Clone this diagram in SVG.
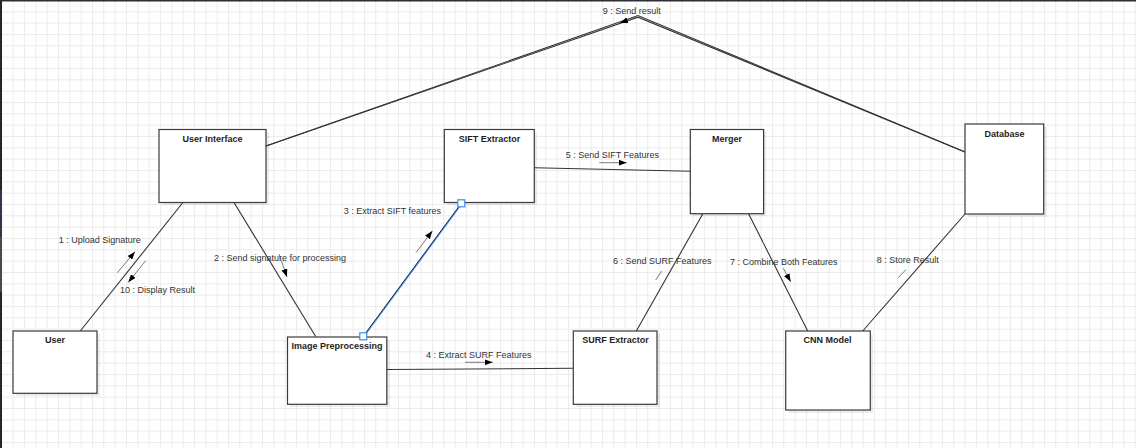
<svg xmlns="http://www.w3.org/2000/svg" width="1136" height="448" viewBox="0 0 1136 448">
  <style>
    .node rect.box { fill: #ffffff; stroke: #3a3a3a; stroke-width: 1.2; }
    .node rect.shadow { fill: #000000; opacity: 0.07; }
    .node text { font-family: "Liberation Sans", Arial, sans-serif; font-size: 9px; font-weight: bold; fill: #1e1e1e; text-anchor: middle; }
    .link { fill: none; stroke: #333333; stroke-width: 1.1; }
    .msg { fill: none; stroke: #6a6a6a; stroke-width: 0.9; }
    .lbl { font-family: "Liberation Sans", Arial, sans-serif; font-size: 9px; fill: #333333; }
    .handle { fill: #ffffff; stroke: #3d8bf2; stroke-width: 1.2; }
  </style>
  <defs>
    <pattern id="grid" x="1.3" y="0" width="11.333" height="11.333" patternUnits="userSpaceOnUse">
      <rect x="0" y="0" width="1" height="11.333" fill="#ebebeb"/>
      <rect x="0" y="0" width="11.333" height="1" fill="#ebebeb"/>
    </pattern>
    <marker id="head" viewBox="0 0 8 6" refX="8" refY="3" markerWidth="8" markerHeight="6" markerUnits="userSpaceOnUse" orient="auto">
      <path d="M0,0 L8,3 L0,6 z" fill="#000000"/>
    </marker>
  </defs>

  <!-- canvas -->
  <rect x="0" y="0" width="1136" height="448" fill="#ffffff"/>
  <rect x="0" y="0" width="1136" height="448" fill="url(#grid)"/>
  <rect x="0" y="0" width="1136" height="1.5" fill="#2b3036"/>
  <rect x="0" y="0" width="2" height="448" fill="#262626"/>
  <rect x="0" y="190" width="2" height="47" fill="#2f3844"/>
  <rect x="0" y="237" width="2" height="55" fill="#4a4a4a"/>

  <!-- connectors -->
  <g id="connectors">
    <polyline class="link" points="266,146 638,15.6 965,152" stroke-width="0.9"/>
    <polyline class="link" points="266,146 638,17.2 965,152" stroke="#555555" stroke-width="0.9"/>
    <line class="link" x1="182.5" y1="203" x2="80.3" y2="331" stroke="#111111" stroke-width="1.5"/>
    <line class="link" x1="234.3" y1="203" x2="315.7" y2="336.5"/>
    <line x1="363.8" y1="336.6" x2="461.8" y2="203.6" stroke="#5b9cf5" stroke-width="1.6"/>
    <line x1="363.3" y1="336.3" x2="461.3" y2="203.3" stroke="#1c2433" stroke-width="1"/>
    <line class="link" x1="387" y1="369.5" x2="573" y2="368.3" stroke="#666666"/>
    <line class="link" x1="534.3" y1="167.7" x2="690.3" y2="171.3"/>
    <line class="link" x1="702.7" y1="214" x2="636.3" y2="331"/>
    <line class="link" x1="748.7" y1="214" x2="807.7" y2="331"/>
    <line class="link" x1="862.7" y1="331" x2="965" y2="214"/>

    <!-- message arrows -->
    <line class="msg" x1="636.5" y1="16.8" x2="620" y2="23" marker-end="url(#head)"/>
    <line class="msg" x1="117.3" y1="272.7" x2="135" y2="251.7" marker-end="url(#head)"/>
    <line class="msg" x1="145.7" y1="260.7" x2="128.3" y2="282.3" marker-end="url(#head)"/>
    <line class="msg" x1="279" y1="254" x2="287" y2="277" marker-end="url(#head)"/>
    <line class="msg" x1="416" y1="252.7" x2="432.3" y2="231" marker-end="url(#head)"/>
    <line class="msg" x1="465" y1="362.3" x2="492.7" y2="362.3" marker-end="url(#head)"/>
    <line class="msg" x1="599.3" y1="162.7" x2="626.7" y2="162.7" marker-end="url(#head)"/>
    <line class="msg" x1="783.3" y1="268.3" x2="790.7" y2="281.7" marker-end="url(#head)"/>
    <line class="msg" x1="655.7" y1="280" x2="661.7" y2="271"/>
    <line class="msg" x1="898.3" y1="277.7" x2="906" y2="269.5"/>

    <!-- message labels -->
    <text class="lbl" x="631.7" y="14" text-anchor="middle">9 : Send result</text>
    <text class="lbl" x="58.7" y="243.3">1 : Upload Signature</text>
    <text class="lbl" x="120" y="293.3">10 : Display Result</text>
    <text class="lbl" x="214" y="261">2 : Send signature for processing</text>
    <text class="lbl" x="343.7" y="214">3 : Extract SIFT features</text>
    <text class="lbl" x="426" y="358.3">4 : Extract SURF Features</text>
    <text class="lbl" x="565.7" y="158">5 : Send SIFT Features</text>
    <text class="lbl" x="613" y="264">6 : Send SURF Features</text>
    <text class="lbl" x="730" y="265">7 : Combine Both Features</text>
    <text class="lbl" x="876.7" y="263.3">8 : Store Result</text>
  </g>

  <!-- objects -->
  <g id="user-interface" class="node">
    <rect class="shadow" x="162" y="132" width="107" height="73"/>
    <rect class="box" x="159" y="129.5" width="107" height="73"/>
    <text x="212.5" y="142">User Interface</text>
  </g>
  <g id="user" class="node">
    <rect class="shadow" x="16" y="334" width="84" height="62"/>
    <rect class="box" x="13" y="331" width="84" height="62.3"/>
    <text x="55" y="343">User</text>
  </g>
  <g id="image-preprocessing" class="node">
    <rect class="shadow" x="290" y="340" width="100" height="67"/>
    <rect class="box" x="287.5" y="337" width="99.3" height="67.3"/>
    <text x="337" y="349.3">Image Preprocessing</text>
  </g>
  <g id="sift-extractor" class="node">
    <rect class="shadow" x="447" y="132" width="90" height="73"/>
    <rect class="box" x="444.3" y="129.5" width="90" height="73"/>
    <text x="489.5" y="142">SIFT Extractor</text>
  </g>
  <g id="merger" class="node">
    <rect class="shadow" x="693" y="132" width="73" height="84"/>
    <rect class="box" x="690.3" y="129.5" width="73.3" height="84.2"/>
    <text x="727" y="142">Merger</text>
  </g>
  <g id="surf-extractor" class="node">
    <rect class="shadow" x="576" y="334" width="84" height="73"/>
    <rect class="box" x="573.3" y="331" width="83.7" height="73.3"/>
    <text x="615.5" y="343">SURF Extractor</text>
  </g>
  <g id="cnn-model" class="node">
    <rect class="shadow" x="789" y="334" width="84" height="79"/>
    <rect class="box" x="785.7" y="331" width="84.6" height="79"/>
    <text x="827.5" y="343">CNN Model</text>
  </g>
  <g id="database" class="node">
    <rect class="shadow" x="968" y="127" width="79" height="90"/>
    <rect class="box" x="965" y="124" width="78.7" height="90"/>
    <text x="1004.5" y="136.5">Database</text>
  </g>

  <!-- selection handles on the selected link ends -->
  <g id="selection-handles">
    <rect class="handle" x="359.8" y="332.8" width="7" height="7"/>
    <rect class="handle" x="457.8" y="199.8" width="7" height="7"/>
  </g>
</svg>
